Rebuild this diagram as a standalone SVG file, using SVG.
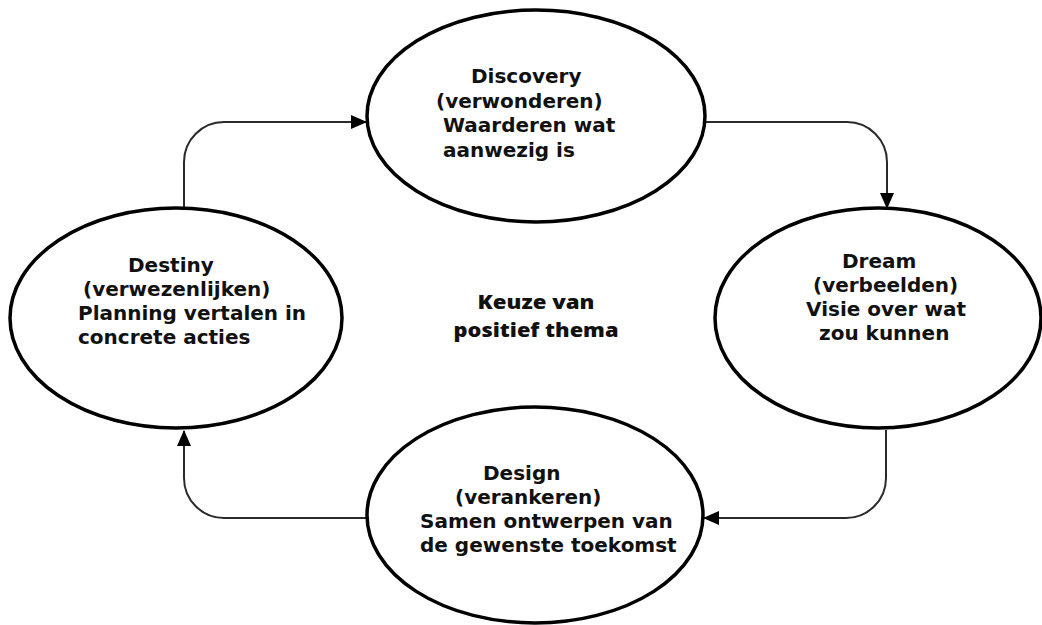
<svg xmlns="http://www.w3.org/2000/svg" width="1042" height="625" viewBox="0 0 1042 625">
<style>
.node ellipse { fill: #ffffff; stroke: #000000; stroke-width: 3.5; }
.lbl { font-family: "DejaVu Sans", Verdana, sans-serif; font-weight: bold; font-size: 20px; fill: #111111; }
.ctr { font-family: "Open Sans", Lato, sans-serif; font-weight: 800; font-size: 20px; fill: #111111; text-anchor: middle; }
.conn path { fill: none; stroke: #2a2a2a; stroke-width: 2; marker-end: url(#arrow); }
</style>
<defs>
<marker id="arrow" markerUnits="userSpaceOnUse" markerWidth="16" markerHeight="14" refX="15" refY="7" orient="auto">
<path d="M0,0 L16,7 L0,14 Z" fill="#000000"/>
</marker>
</defs>
<rect width="1042" height="625" fill="#ffffff"/>
<g id="connectors" class="conn">
<path d="M184 209 L184 162 A40 40 0 0 1 224 122 L366 122"/>
<path d="M705 122 L847 122 A40 40 0 0 1 887 162 L887 208"/>
<path d="M886 430 L886 478 A40 40 0 0 1 846 518 L704 518"/>
<path d="M367 518 L224 518 A40 40 0 0 1 184 478 L184 431"/>
</g>
<g id="discovery" class="node">
<ellipse cx="536" cy="116" rx="169" ry="106"/>
<text class="lbl" x="471" y="83">Discovery</text>
<text class="lbl" x="436" y="108">(verwonderen)</text>
<text class="lbl" x="443" y="132">Waarderen wat</text>
<text class="lbl" x="443" y="157">aanwezig is</text>
</g>
<g id="dream" class="node">
<ellipse cx="878" cy="318" rx="163" ry="110"/>
<text class="lbl" x="842" y="268">Dream</text>
<text class="lbl" x="813" y="292">(verbeelden)</text>
<text class="lbl" x="806" y="316">Visie over wat</text>
<text class="lbl" x="819" y="340">zou kunnen</text>
</g>
<g id="design" class="node">
<ellipse cx="535" cy="515" rx="168" ry="108"/>
<text class="lbl" x="483" y="480">Design</text>
<text class="lbl" x="455" y="504">(verankeren)</text>
<text class="lbl" x="420" y="528">Samen ontwerpen van</text>
<text class="lbl" x="420" y="552">de gewenste toekomst</text>
</g>
<g id="destiny" class="node">
<ellipse cx="176" cy="318" rx="166" ry="110"/>
<text class="lbl" x="128" y="272">Destiny</text>
<text class="lbl" x="83" y="296">(verwezenlijken)</text>
<text class="lbl" x="78" y="320">Planning vertalen in</text>
<text class="lbl" x="78" y="344">concrete acties</text>
</g>
<g id="center">
<text class="ctr" x="536" y="309" textLength="117" lengthAdjust="spacingAndGlyphs">Keuze van</text>
<text class="ctr" x="536" y="337" textLength="165" lengthAdjust="spacingAndGlyphs">positief thema</text>
</g>
</svg>
